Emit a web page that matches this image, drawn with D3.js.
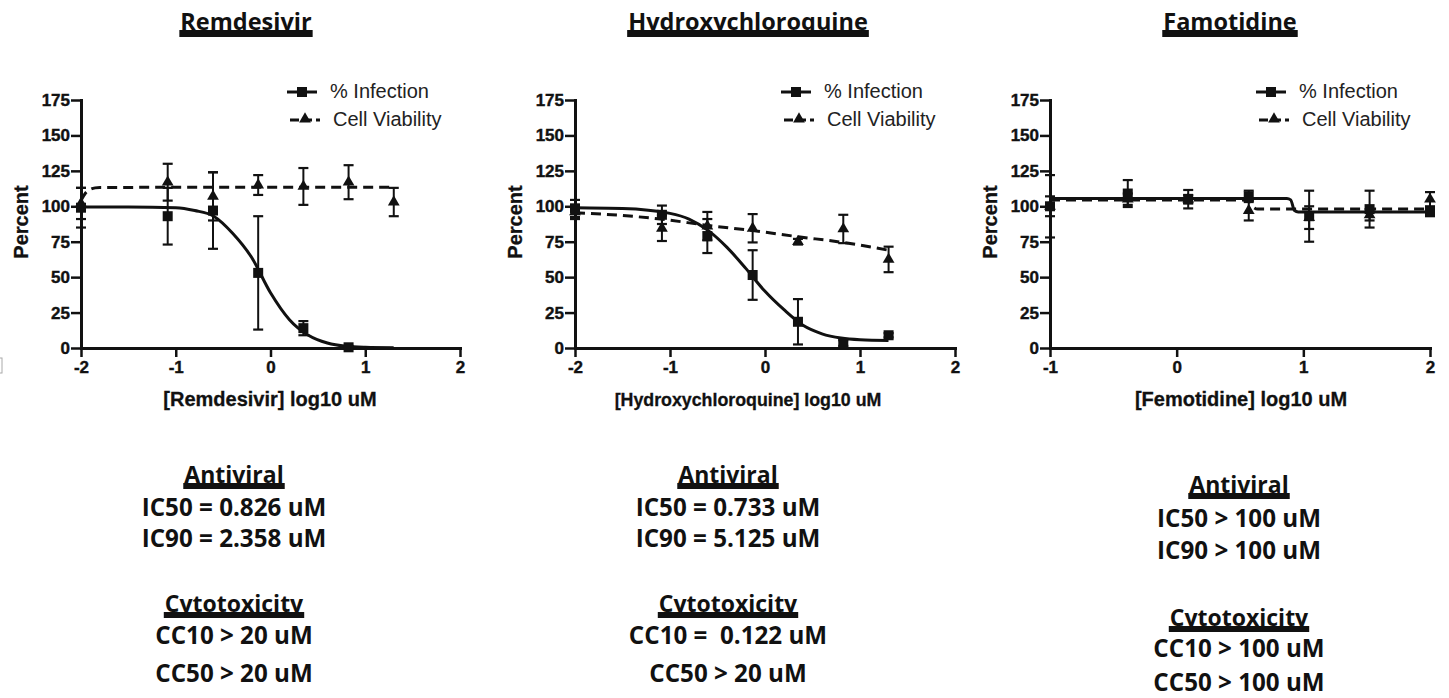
<!DOCTYPE html>
<html><head><meta charset="utf-8">
<script src="https://cdn.jsdelivr.net/npm/d3@7"></script>
<style>
body{margin:0;background:#fff;}
svg{display:block;}
.ax text{font-family:"Liberation Sans",Arial,sans-serif;font-weight:bold;font-size:17px;fill:#111;stroke:#111;stroke-width:0.4px;}
.ax .domain{stroke:#111;stroke-width:3;}
.ax .tick line{stroke:#111;stroke-width:2.5;}
.cal{font-family:"Open Sans",Lato,sans-serif;font-weight:bold;fill:#111;white-space:pre;}
.lab{font-family:"Liberation Sans",Arial,sans-serif;font-weight:bold;fill:#111;stroke:#111;stroke-width:0.3px;}
</style>
</head><body>
<svg id="c" width="1449" height="698"></svg>
<script>
// ---------- data ----------
const drugs = ["Remdesivir", "Hydroxychloroquine", "Famotidine"];
const xLabels = ["[Remdesivir] log10 uM", "[Hydroxychloroquine] log10 uM", "[Femotidine] log10 uM"];
const xDomains = [[-2, 2], [-2, 2], [-1, 2]];
const xTickValues = [[-2, -1, 0, 1, 2], [-2, -1, 0, 1, 2], [-1, 0, 1, 2]];
const yTickValues = [0, 25, 50, 75, 100, 125, 150, 175];
const yLabel = "Percent";
const legendLabels = ["% Infection", "Cell Viability"];

// log10 uM concentrations
const remX = [-2, -1.085, -0.607, -0.13, 0.347, 0.824, 1.301];
const remInf = [99, 93, 97, 53, 14, 0.5, null];
const remInfErr = [14, 20, 27, 40, 5, 1, null];
const remVia = [102, 117, 107, 115, 114, 117, 103];
const remViaErr = [11, 13, 17, 7, 13, 12, 10];
const remInfFitX = [-2, -1.5, -1, -0.8, -0.6, -0.4, -0.2, 0, 0.2, 0.4, 0.6, 0.8, 1.0, 1.3];
const remInfFitY = [99.5, 99.5, 99, 97, 93, 81, 64, 39, 20, 9, 3.5, 1.2, 0.5, 0.2];
const remViaFitX = [-2, -1.95, -1.9, -1.85, -1.8, 1.3];
const remViaFitY = [104, 109.5, 112, 113, 113.3, 113.5];

const hcqX = [-2, -1.085, -0.607, -0.13, 0.347, 0.824, 1.301];
const hcqInf = [98.5, 94, 79, 51.5, 18.5, 3.5, 9];
const hcqInfErr = [6, 6.5, 12, 17.5, 16, 2, 1.5];
const hcqVia = [96, 84.5, 86, 84.5, 75, 84, 62.5];
const hcqViaErr = [5, 9, 10, 10, 2, 10, 9];
const hcqInfFitX = [-2, -1.5, -1.0, -0.8, -0.6, -0.4, -0.2, 0, 0.2, 0.4, 0.6, 0.8, 1.0, 1.3];
const hcqInfFitY = [99, 98.5, 95, 91, 83, 71, 56, 40, 27, 16, 10, 7, 5.8, 5.3];
const hcqViaFitX = [-2, -1.5, -1.1, -0.6, -0.15, 0.35, 0.82, 1.3];
const hcqViaFitY = [95.5, 93.5, 91, 86.5, 83, 78.5, 74.5, 69];

const famX = [-1, -0.386, 0.091, 0.569, 1.046, 1.523, 2];
const famInf = [100, 109, 105, 107, 93, 98, 96];
const famInfErr = [22, 9.5, 6.5, 4, 18, 13, 3];
const famVia = [100, 105, 105, 97, 92, 94, 105];
const famViaErr = [7, 4, 3, 7, 8, 4, 5];
const famInfFitX = [-1, 0.87, 0.9, 0.93, 0.96, 2];
const famInfFitY = [105.5, 105.5, 104.5, 97, 96, 96];
const famViaFitX = [-1, 0.55, 0.58, 0.61, 0.64, 2];
const famViaFitY = [104.5, 104.5, 103, 99, 98, 98];

const antiviralHead = "Antiviral";
const cytoHead = "Cytotoxicity";
const antiviralLines = [["IC50 = 0.826 uM", "IC90 = 2.358 uM"], ["IC50 = 0.733 uM", "IC90 = 5.125 uM"], ["IC50 > 100 uM", "IC90 > 100 uM"]];
const cytoLines = [["CC10 > 20 uM", "CC50 > 20 uM"], ["CC10 =  0.122 uM", "CC50 > 20 uM"], ["CC10 > 100 uM", "CC50 > 100 uM"]];

// ---------- build ----------
const panels = [
  {x: remX, inf: remInf, infErr: remInfErr, via: remVia, viaErr: remViaErr, infFit: [remInfFitX, remInfFitY], viaFit: [remViaFitX, remViaFitY]},
  {x: hcqX, inf: hcqInf, infErr: hcqInfErr, via: hcqVia, viaErr: hcqViaErr, infFit: [hcqInfFitX, hcqInfFitY], viaFit: [hcqViaFitX, hcqViaFitY]},
  {x: famX, inf: famInf, infErr: famInfErr, via: famVia, viaErr: famViaErr, infFit: [famInfFitX, famInfFitY], viaFit: [famViaFitX, famViaFitY]}
];
const layout = [
  {x0: 81, x1: 460, titleX: 246, xLabelX: 270, xLabelSize: 20, bottomX: 234, bottomY: [483, 516, 547, 612, 644, 682]},
  {x0: 575, x1: 955, titleX: 748, xLabelX: 748, xLabelSize: 17.8, bottomX: 728, bottomY: [483, 516, 547, 612, 644, 682]},
  {x0: 1050, x1: 1430, titleX: 1230, xLabelX: 1241, xLabelSize: 20, bottomX: 1239, bottomY: [493, 527, 559, 626, 657, 691]}
];
const yTop = 100, yBot = 348;
const svg = d3.select("#c");

// small scan artifact box at left edge
svg.append("rect").attr("x", -2).attr("y", 358).attr("width", 4).attr("height", 15)
  .attr("fill", "none").attr("stroke", "#aaa").attr("stroke-width", 1);

function heading(g, txt, cx, baseline, size, barH) {
  const t = g.append("text").attr("class", "cal").attr("x", cx).attr("y", baseline)
    .attr("text-anchor", "middle").attr("font-size", size).text(txt);
  const w = t.node().getComputedTextLength();
  g.append("rect").attr("x", cx - w / 2 - 1).attr("y", baseline).attr("width", w + 2).attr("height", barH).attr("fill", "#111");
}

panels.forEach((p, i) => {
  const L = layout[i];
  const x = d3.scaleLinear().domain(xDomains[i]).range([L.x0, L.x1]);
  const y = d3.scaleLinear().domain([0, 175]).range([yBot, yTop]);
  const g = svg.append("g");

  heading(g, drugs[i], L.titleX, 30, 23.5, 7);

  // axes
  g.append("g").attr("class", "ax").attr("transform", `translate(${L.x0},0)`)
    .call(d3.axisLeft(y).tickValues(yTickValues).tickSize(10).tickSizeOuter(0).tickPadding(1).tickFormat(d => String(d)));
  g.append("g").attr("class", "ax").attr("transform", `translate(0,${yBot})`)
    .call(d3.axisBottom(x).tickValues(xTickValues[i]).tickSize(9).tickSizeOuter(0).tickPadding(4).tickFormat(d => String(d)));
  g.selectAll(".ax .domain").attr("stroke-linecap", "square");

  g.append("text").attr("class", "lab").attr("transform", `translate(${L.x0 - 60},222) rotate(-90)`)
    .attr("text-anchor", "middle").attr("dy", "0.35em").style("font-size", "20px").text(yLabel);
  g.append("text").attr("class", "lab").attr("x", L.xLabelX).attr("y", 406).attr("text-anchor", "middle")
    .style("font-size", L.xLabelSize + "px").text(xLabels[i]);

  // error bars
  const drawErr = (vals, errs) => {
    vals.forEach((v, k) => {
      if (v == null || errs[k] == null) return;
      const cx = x(p.x[k]), lo = y(v - errs[k]), hi = y(v + errs[k]);
      g.append("line").attr("x1", cx).attr("x2", cx).attr("y1", lo).attr("y2", hi).attr("stroke", "#111").attr("stroke-width", 2);
      [lo, hi].forEach(yy => g.append("line").attr("x1", cx - 5).attr("x2", cx + 5).attr("y1", yy).attr("y2", yy).attr("stroke", "#111").attr("stroke-width", 2.2));
    });
  };
  drawErr(p.via, p.viaErr);
  drawErr(p.inf, p.infErr);

  const line = d3.line().x(d => x(d[0])).y(d => y(d[1])).curve(d3.curveMonotoneX);
  g.append("path").attr("d", line(p.viaFit[0].map((v, k) => [v, p.viaFit[1][k]])))
    .attr("fill", "none").attr("stroke", "#111").attr("stroke-width", 3).attr("stroke-dasharray", "10,6");
  g.append("path").attr("d", line(p.infFit[0].map((v, k) => [v, p.infFit[1][k]])))
    .attr("fill", "none").attr("stroke", "#111").attr("stroke-width", 3);

  const tri = d3.symbol().type(d3.symbolTriangle).size(60);
  p.via.forEach((v, k) => {
    if (v == null) return;
    g.append("path").attr("d", tri()).attr("transform", `translate(${x(p.x[k])},${y(v)})`).attr("fill", "#111");
  });
  p.inf.forEach((v, k) => {
    if (v == null) return;
    g.append("rect").attr("x", x(p.x[k]) - 5).attr("y", y(v) - 5).attr("width", 10).attr("height", 10).attr("fill", "#111");
  });

  // legend
  const lx = L.x0 + 206;
  g.append("line").attr("x1", lx).attr("x2", lx + 30).attr("y1", 92).attr("y2", 92).attr("stroke", "#111").attr("stroke-width", 3);
  g.append("rect").attr("x", lx + 10).attr("y", 87).attr("width", 10).attr("height", 10).attr("fill", "#111");
  g.append("line").attr("x1", lx + 3).attr("x2", lx + 33).attr("y1", 120).attr("y2", 120).attr("stroke", "#111").attr("stroke-width", 3).attr("stroke-dasharray", "9,4");
  g.append("path").attr("d", tri()).attr("transform", `translate(${lx + 18},119)`).attr("fill", "#111");
  [0, 1].forEach(k => {
    g.append("text").attr("x", lx + 43 + k * 3).attr("y", 98 + k * 28)
      .style("font-family", '"Liberation Sans",Arial,sans-serif').style("font-size", "20px").attr("fill", "#222")
      .text(legendLabels[k]);
  });

  // bottom summary text
  const by = L.bottomY;
  heading(g, antiviralHead, L.bottomX, by[0], 23, 6);
  antiviralLines[i].forEach((t, k) => g.append("text").attr("class", "cal").attr("x", L.bottomX).attr("y", by[1 + k])
    .attr("text-anchor", "middle").attr("font-size", 24.2).text(t));
  heading(g, cytoHead, L.bottomX, by[3], 23, 6);
  cytoLines[i].forEach((t, k) => g.append("text").attr("class", "cal").attr("x", L.bottomX).attr("y", by[4 + k])
    .attr("text-anchor", "middle").attr("font-size", 24.2).text(t));
});
</script>
</body></html>
